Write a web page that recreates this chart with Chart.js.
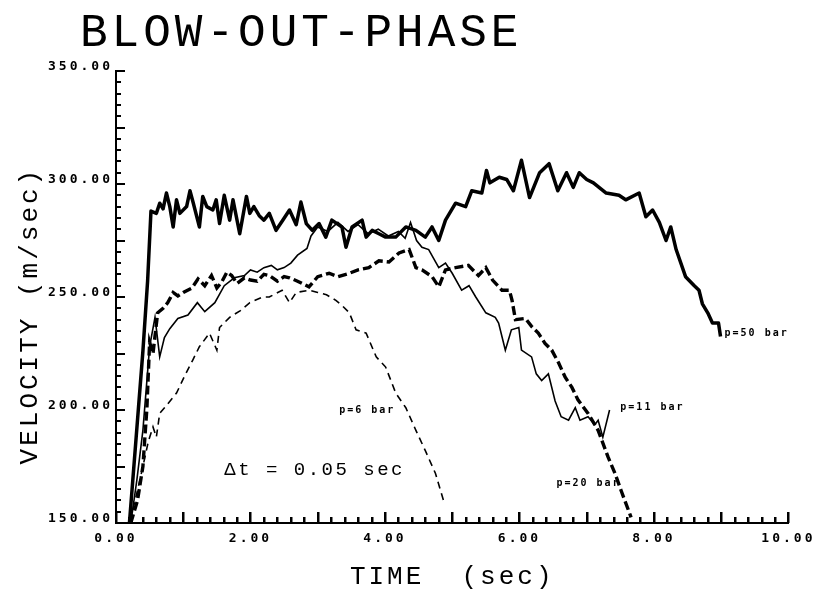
<!DOCTYPE html>
<html>
<head>
<meta charset="utf-8">
<title>Blow-out-phase</title>
<script src="https://cdn.jsdelivr.net/npm/chart.js@4.4.1/dist/chart.umd.min.js"></script>
<style>
  html, body { margin: 0; padding: 0; background: #fff; }
  #wrap { width: 816px; height: 590px; }
</style>
</head>
<body>
<div id="wrap"><canvas id="mycanvas" width="816" height="590"></canvas></div>
<script>
// values (time in sec, velocity in m/sec)
var chartTitle = 'BLOW-OUT-PHASE';
var xTitle = 'TIME  (sec)';
var yTitle = 'VELOCITY (m/sec)  ';
var xMin = 0, xMax = 10, xStep = 2;
var yMin = 150, yMax = 350, yStep = 50;

var seriesNames = ['p=50 bar', 'p=11 bar', 'p=20 bar', 'p=6 bar'];

// p=50 bar
var t50 = [0.20, 0.30, 0.40, 0.47, 0.52, 0.60, 0.65, 0.70, 0.75, 0.80, 0.85, 0.90, 0.95, 1.05, 1.10, 1.15, 1.24, 1.29, 1.35, 1.44,
           1.49, 1.54, 1.61, 1.69, 1.74, 1.84, 1.94, 1.99, 2.05, 2.13, 2.20, 2.28, 2.38, 2.48, 2.58, 2.68, 2.75, 2.83, 2.92, 3.02,
           3.12, 3.21, 3.36, 3.42, 3.51, 3.66, 3.72, 3.81, 3.91, 4.01, 4.16, 4.31, 4.46, 4.60, 4.70, 4.80, 4.90, 5.05, 5.20, 5.29,
           5.44, 5.51, 5.56, 5.70, 5.81, 5.91, 6.03, 6.15, 6.30, 6.44, 6.57, 6.70, 6.80, 6.89, 7.00, 7.10, 7.29, 7.48, 7.58, 7.78,
           7.88, 7.98, 8.08, 8.18, 8.25, 8.33, 8.47, 8.60, 8.67, 8.72, 8.80, 8.87, 8.96, 8.99];
var v50 = [150, 188, 226, 257, 288, 287, 291.5, 289, 296, 290, 281, 293, 287, 290, 297, 291.5, 281, 294.5, 290, 288.5,
           293, 282.5, 295, 284, 293, 278, 294.5, 287, 290, 286, 284, 287, 279.5, 284, 288.5, 282, 292, 282.5, 279.5, 282.5,
           276.5, 284, 281, 272, 281, 284, 276.5, 279.5, 278, 276.5, 276.5, 281, 279.5, 276.5, 281, 275, 284, 291.5, 290, 297,
           296, 306, 300.5, 303, 302, 297, 310.5, 294, 305, 309, 297, 305, 298.5, 305, 302, 300.5, 296, 295, 293, 296,
           285.5, 288.5, 283, 275, 281, 271, 259, 255, 253, 247, 243, 238.5, 238.5, 232.5];

// p=11 bar
var t11 = [0.22, 0.31, 0.40, 0.50, 0.58, 0.65, 0.72, 0.80, 0.92, 1.07, 1.21, 1.32, 1.47, 1.61, 1.76, 1.91, 2.00, 2.10, 2.20, 2.31,
           2.40, 2.50, 2.60, 2.70, 2.84, 2.90, 3.00, 3.15, 3.30, 3.45, 3.60, 3.75, 3.90, 4.05, 4.20, 4.30, 4.38, 4.47, 4.55, 4.65,
           4.80, 4.90, 5.00, 5.14, 5.25, 5.35, 5.50, 5.64, 5.69, 5.79, 5.88, 5.99, 6.03, 6.18, 6.25, 6.33, 6.43, 6.53, 6.62, 6.73,
           6.83, 6.90, 7.02, 7.12, 7.17, 7.24, 7.34];
var v11 = [150, 169, 191, 228, 241, 223.5, 232, 236, 240.5, 242, 247.5, 243.5, 247.5, 255, 258.5, 259.5, 262, 261, 263, 264,
           262, 263, 265, 268.5, 271.5, 277, 281, 279, 283, 279, 282, 278, 280, 277, 279, 276, 283, 275, 272, 271,
           263, 265, 260.5, 253, 255, 250, 243, 241, 238.5, 226.5, 235.5, 236.5, 226.5, 223.5, 216, 213, 216, 204, 197, 195.5,
           201, 195.5, 197, 193.5, 195.5, 188, 200];

// p=20 bar
var t20 = [0.22, 0.32, 0.40, 0.46, 0.50, 0.55, 0.62, 0.70, 0.77, 0.85, 0.92, 1.00, 1.13, 1.22, 1.32, 1.42, 1.50, 1.57, 1.65, 1.72,
           1.80, 1.91, 2.00, 2.10, 2.20, 2.28, 2.40, 2.50, 2.58, 2.70, 2.87, 3.00, 3.17, 3.30, 3.47, 3.60, 3.76, 3.91, 4.06, 4.21,
           4.36, 4.46, 4.55, 4.70, 4.80, 4.90, 5.05, 5.24, 5.39, 5.50, 5.60, 5.74, 5.85, 5.89, 5.94, 6.09, 6.18, 6.28, 6.38, 6.48,
           6.58, 6.68, 6.78, 6.87, 7.02, 7.17, 7.32, 7.42, 7.51, 7.66];
var v20 = [150, 160, 175, 201, 230, 225, 243, 245, 247.5, 252, 250.5, 252, 254, 258, 255, 259.5, 254, 256.5, 261, 259.5,
           256, 258.5, 257.5, 257, 260, 259.5, 257, 259, 258.5, 257, 254.5, 259, 260.5, 259, 260.5, 262, 263, 266, 265.5, 269.5,
           271, 263, 262, 259, 254.5, 262, 263, 264, 259.5, 263, 257.5, 253, 253, 248.5, 240, 240.5, 237, 234, 229.5, 226.5,
           221, 214.5, 210, 204.5, 198.5, 191, 179, 172, 164.5, 152.5];

// p=6 bar
var t6 = [0.21, 0.30, 0.40, 0.48, 0.55, 0.60, 0.65, 0.75, 0.90, 1.02, 1.14, 1.24, 1.39, 1.50, 1.54, 1.69, 1.85, 1.99, 2.18, 2.28,
          2.47, 2.58, 2.68, 2.87, 3.00, 3.13, 3.27, 3.37, 3.47, 3.57, 3.72, 3.87, 4.01, 4.16, 4.31, 4.46, 4.60, 4.75, 4.87];
var v6 = [151, 162, 175, 186, 192.5, 188, 198.5, 202, 207.5, 215, 222, 228, 234, 226.5, 236.5, 241, 244, 247.5, 250, 250,
          253, 247.5, 252, 253, 252, 251, 248.5, 246, 243, 235.5, 234, 223.5, 219, 207.5, 201, 191, 182, 172, 160];

// where the curve labels sit, in data units
var labelPos = [[9.05, 234], [7.5, 201], [6.55, 167.5], [3.32, 200]];
var noteText = '\u0394t = 0.05 sec';
var notePos = [1.61, 173.5];

// minor tick spacing on each axis
var xMinor = 0.2, yMinor = 5;

var font = "'DejaVu Sans Mono', monospace";
var thinFont = "'Liberation Mono', 'DejaVu Sans Mono', monospace";

function points(xs, ys) {
    var out = [];
    for (var i = 0; i < xs.length; i++) {
        out.push({ x: xs[i], y: ys[i] });
    }
    return out;
}

function drawTicks(chart) {
    var ctx = chart.ctx;
    var area = chart.chartArea;
    var xs = chart.scales.x, ys = chart.scales.y;
    var nx = Math.round((xMax - xMin) / xMinor);
    var ny = Math.round((yMax - yMin) / yMinor);
    var k, p, len;

    ctx.save();
    ctx.fillStyle = '#000';

    // inward ticks on the velocity axis
    for (k = 0; k <= ny; k++) {
        p = Math.round(ys.getPixelForValue(yMin + k * yMinor));
        len = (k % 5 === 0) ? 9 : 5;
        ctx.fillRect(area.left, p - 1, len, 2);
    }

    // inward ticks on the time axis
    for (k = 0; k <= nx; k++) {
        p = Math.round(xs.getPixelForValue(xMin + k * xMinor));
        len = (k % 5 === 0) ? 11 : 6;
        ctx.fillRect(p - 1, area.bottom - len, 2.5, len);
    }
    ctx.restore();
}

var plotter = {
    id: 'plotter',
    beforeDraw: function (chart) {
        chart.ctx.letterSpacing = '3px';
    },
    afterDraw: function (chart) {
        var ctx = chart.ctx, xs = chart.scales.x, ys = chart.scales.y;
        drawTicks(chart);

        ctx.save();
        ctx.fillStyle = '#000';
        ctx.textAlign = 'left';
        ctx.textBaseline = 'alphabetic';

        ctx.letterSpacing = '4px';
        ctx.font = '46px ' + thinFont;
        ctx.fillText(chartTitle, 80, 46);

        ctx.textBaseline = 'middle';
        ctx.letterSpacing = '2px';
        ctx.font = 'bold 10px ' + font;
        for (var i = 0; i < seriesNames.length; i++) {
            ctx.fillText(seriesNames[i], xs.getPixelForValue(labelPos[i][0]), ys.getPixelForValue(labelPos[i][1]));
        }

        ctx.letterSpacing = '2.5px';
        ctx.font = '19px ' + thinFont;
        ctx.fillText(noteText, xs.getPixelForValue(notePos[0]), ys.getPixelForValue(notePos[1]));
        ctx.restore();
    }
};

var ctx = document.getElementById('mycanvas');

var chart = new Chart(ctx, {
    type: 'line',
    data: {
        datasets: [{
            label: seriesNames[0],
            data: points(t50, v50),
            borderColor: '#000',
            borderWidth: 3.5,
            borderJoinStyle: 'round'
        }, {
            label: seriesNames[1],
            data: points(t11, v11),
            borderColor: '#000',
            borderWidth: 1.6
        }, {
            label: seriesNames[2],
            data: points(t20, v20),
            borderColor: '#000',
            borderWidth: 3.4,
            borderDash: [9, 4]
        }, {
            label: seriesNames[3],
            data: points(t6, v6),
            borderColor: '#000',
            borderWidth: 1.6,
            borderDash: [7, 5]
        }]
    },
    options: {
        responsive: false,
        animation: false,
        layout: { padding: { top: 71, right: 26, bottom: 0, left: 0 } },
        elements: { point: { radius: 0 }, line: { tension: 0, fill: false } },
        plugins: { legend: { display: false }, tooltip: { enabled: false } },
        scales: {
            x: {
                type: 'linear',
                min: xMin,
                max: xMax,
                grid: { display: false, drawTicks: false },
                border: { display: true, color: '#000', width: 2 },
                ticks: {
                    stepSize: xStep,
                    maxRotation: 0,
                    padding: 8,
                    color: '#000',
                    font: { family: font, size: 13, weight: 'bold' },
                    callback: function (v) { return v.toFixed(2); }
                },
                title: {
                    display: true,
                    text: xTitle,
                    color: '#000',
                    padding: { top: 0, bottom: 0 },
                    font: { family: thinFont, size: 26, lineHeight: 1 }
                },
                afterFit: function (s) { s.height = 67; }
            },
            y: {
                type: 'linear',
                min: yMin,
                max: yMax,
                grid: { display: false, drawTicks: false },
                border: { display: true, color: '#000', width: 2 },
                ticks: {
                    stepSize: yStep,
                    padding: 3,
                    labelOffset: -4,
                    color: '#000',
                    font: { family: font, size: 13, weight: 'bold' },
                    callback: function (v) { return v.toFixed(2); }
                },
                title: {
                    display: true,
                    text: yTitle,
                    color: '#000',
                    padding: { top: 17, bottom: 0 },
                    font: { family: thinFont, size: 26, lineHeight: 1 }
                },
                afterFit: function (s) { s.width = 116; }
            }
        }
    },
    plugins: [plotter]
});
</script>
</body>
</html>
